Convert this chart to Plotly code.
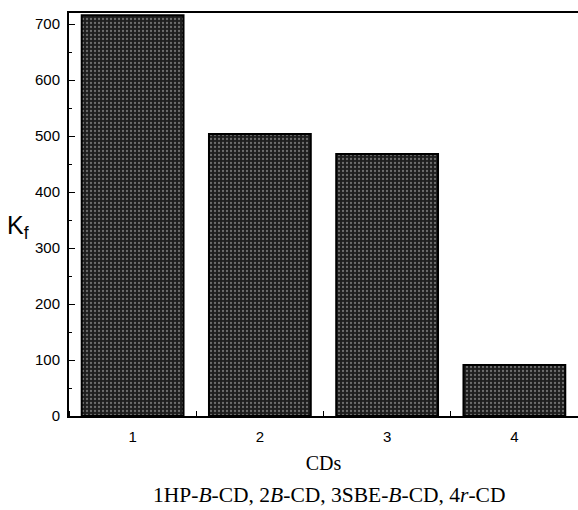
import plotly.graph_objects as go

categories = [1, 2, 3, 4]
kf_values = [716, 504, 468, 91]
y_tick_values = [0, 100, 200, 300, 400, 500, 600, 700]
x_tick_labels = ["1", "2", "3", "4"]

fig = go.Figure()
fig.add_trace(go.Bar(
    x=categories, y=kf_values, width=0.8,
    marker=dict(
        color="#1e1e1e",
        line=dict(color="black", width=2),
        pattern=dict(shape=".", fgcolor="#bdbdbd", size=4, solidity=0.25, fillmode="overlay"),
    ),
    showlegend=False,
))

fig.update_layout(
    width=578, height=510,
    margin=dict(l=69, r=0, t=13, b=94),
    paper_bgcolor="white", plot_bgcolor="white",
    font=dict(family="Liberation Sans, Arial, sans-serif", size=13, color="black"),
)
fig.update_xaxes(
    type="linear", range=[0.5, 4.5], automargin=False,
    tickmode="array", tickvals=categories, ticktext=x_tick_labels,
    ticks="", showgrid=False, zeroline=False,
    showline=True, linecolor="black", linewidth=2, mirror=True,
    minor=dict(ticks="inside", tick0=0.5, dtick=1, ticklen=5, tickwidth=1.2, tickcolor="black"),
    tickfont=dict(size=15), ticklabelstandoff=6,
    title=dict(text="CDs", font=dict(family="Liberation Serif, Times New Roman, serif", size=20), standoff=12),
)
fig.update_yaxes(
    range=[0, 720], tickmode="array", tickvals=y_tick_values, automargin=False,
    ticks="inside", ticklen=6, tickwidth=1.2, tickcolor="black",
    minor=dict(ticks="inside", dtick=50, ticklen=3, tickwidth=1.2, tickcolor="black"),
    showgrid=False, zeroline=False,
    showline=True, linecolor="black", linewidth=2,
    tickfont=dict(size=15), ticklabelstandoff=4,
)
fig.add_annotation(
    text="K<sub>f</sub>", x=-0.1, y=0.47, xref="paper", yref="paper",
    xanchor="center", yanchor="middle", showarrow=False,
    font=dict(size=25, family="Liberation Sans, Arial, sans-serif"),
)
fig.add_annotation(
    text="1HP-<i>B</i>-CD, 2<i>B</i>-CD, 3SBE-<i>B</i>-CD, 4<i>r</i>-CD",
    x=0.51, y=-0.195, xref="paper", yref="paper",
    xanchor="center", yanchor="middle", showarrow=False,
    font=dict(size=21.5, family="Liberation Serif, Times New Roman, serif"),
)

fig.write_html("out.html", config={"displayModeBar": False},
               post_script="document.body.style.margin='0';document.body.style.padding='0';")
